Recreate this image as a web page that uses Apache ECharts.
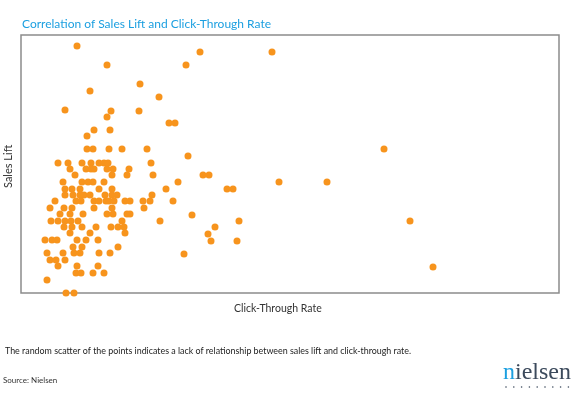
<!DOCTYPE html>
<html>
<head>
<meta charset="utf-8">
<script src="https://cdn.jsdelivr.net/npm/echarts@6/dist/echarts.min.js"></script>
<style>
    html, body { margin: 0; padding: 0; background: #fff; }
    #main { width: 575px; height: 397px; }
</style>
</head>
<body>
<div id="main"></div>
<script>
// [click-through rate, sales lift], relative units (no ticks on the axes)
let upperPoints = [
    [56, 247], [86, 228], [119, 209], [69, 202], [138, 196], [44, 183], [90, 182], [118, 182],
    [86, 176], [148, 170], [154, 170], [73, 163], [89, 163], [66, 157],
    [66, 144], [72, 144], [88, 144], [101, 144], [126, 144],
    [179, 241], [251, 241], [165, 228], [167, 137], [130, 130]
]
let clusterPoints = [
    [37, 130], [47, 130], [61, 130], [70, 130], [78, 130], [83, 130], [87, 130],
    [49, 124], [65, 124], [70, 124], [73, 124], [86, 124], [92, 124], [108, 124],
    [54, 118], [91, 118], [106, 118],
    [42, 111], [61, 111], [67, 111], [72, 111], [83, 111],
    [44, 104], [51, 104], [59, 104], [78, 104], [91, 104],
    [44, 98], [52, 98], [59, 98], [63, 98], [69, 98], [84, 98], [91, 98], [96, 98],
    [34, 92], [55, 92], [60, 92], [73, 92], [78, 92], [85, 92], [88, 92], [93, 92], [104, 92], [109, 92], [122, 92],
    [29, 85], [43, 85], [51, 85], [73, 85], [91, 85], [123, 85],
    [39, 79], [49, 79], [62, 79], [86, 79], [92, 79], [106, 79], [109, 79],
    [30, 72], [37, 72], [44, 72], [50, 72], [57, 72], [101, 72],
    [43, 66], [51, 66], [61, 66], [75, 66], [90, 66], [97, 66], [103, 66],
    [49, 60], [69, 60], [104, 60],
    [24, 53], [31, 53], [36, 53], [56, 53], [65, 53], [77, 53],
    [52, 46], [61, 46], [97, 46],
    [26, 40], [42, 40], [53, 40], [59, 40], [78, 40], [89, 40],
    [29, 33], [35, 33], [44, 33],
    [37, 27], [56, 27], [77, 27],
    [55, 20], [60, 20], [72, 20], [83, 20],
    [26, 13], [45, 0], [53, 0]
]
let rightPoints = [
    [132, 118], [182, 118], [188, 118], [258, 111], [157, 111], [145, 104], [206, 104], [212, 104],
    [131, 98], [129, 92], [152, 92], [171, 78], [139, 72], [218, 72], [194, 66], [187, 59],
    [190, 52], [216, 52], [163, 39],
    [363, 144], [306, 111], [389, 72], [412, 26]
]

let points = upperPoints.concat(clusterPoints, rightPoints)

let chartDom = document.getElementById('main')
let myChart = echarts.init(chartDom)
let option

// the little row of dots under the nielsen logo
let logoDots = []
for (let i = 0; i < 9; i++) {
    logoDots.push({
        type: 'circle',
        shape: { cx: 506 + i * 7.8, cy: 387, r: 0.8 },
        style: { fill: '#3c4a5c' }
    })
}

option = {
    animation: false,
    title: {
        text: 'Correlation of Sales Lift and Click-Through Rate',
        left: 17,
        top: 13,
        textStyle: {
            color: '#1b9fe0',
            fontSize: 12,
            fontWeight: 'normal',
            fontFamily: 'Lato'
        }
    },
    grid: {
        left: 21,
        right: 16,
        top: 35,
        bottom: 104,
        show: true,
        borderColor: '#8c8c8c',
        borderWidth: 1.5
    },
    xAxis: {
        type: 'value',
        min: 0,
        max: 538,
        axisLine: { show: false },
        axisTick: { show: false },
        axisLabel: { show: false },
        splitLine: { show: false }
    },
    yAxis: {
        type: 'value',
        min: 0,
        max: 258,
        axisLine: { show: false },
        axisTick: { show: false },
        axisLabel: { show: false },
        splitLine: { show: false }
    },
    series: [
        {
            type: 'scatter',
            data: points,
            symbolSize: 7,
            clip: false,
            itemStyle: { color: '#f7941d', opacity: 1 }
        }
    ],
    graphic: [
        {
            type: 'text',
            x: 3,
            y: 188,
            rotation: Math.PI / 2,
            style: {
                text: 'Sales Lift',
                fill: '#333',
                font: '11px Lato'
            }
        },
        {
            type: 'text',
            left: 234,
            top: 303,
            style: {
                text: 'Click-Through Rate',
                fill: '#333',
                font: '10.5px Lato'
            }
        },
        {
            type: 'text',
            left: 5,
            top: 347,
            style: {
                text: 'The random scatter of the points indicates a lack of relationship between sales lift and click-through rate.',
                fill: '#222',
                font: '8.9px Lato'
            }
        },
        {
            type: 'text',
            left: 3,
            top: 376,
            style: {
                text: 'Source: Nielsen',
                fill: '#333',
                font: '8px Lato'
            }
        },
        {
            type: 'text',
            left: 503,
            top: 361,
            style: {
                text: '{n|n}{rest|ielsen}',
                rich: {
                    n: { fill: '#1b9fe0', font: '24px "Liberation Serif"' },
                    rest: { fill: '#3c4a5c', font: '24px "Liberation Serif"' }
                }
            }
        }
    ].concat(logoDots)
}

option && myChart.setOption(option)
</script>
</body>
</html>
